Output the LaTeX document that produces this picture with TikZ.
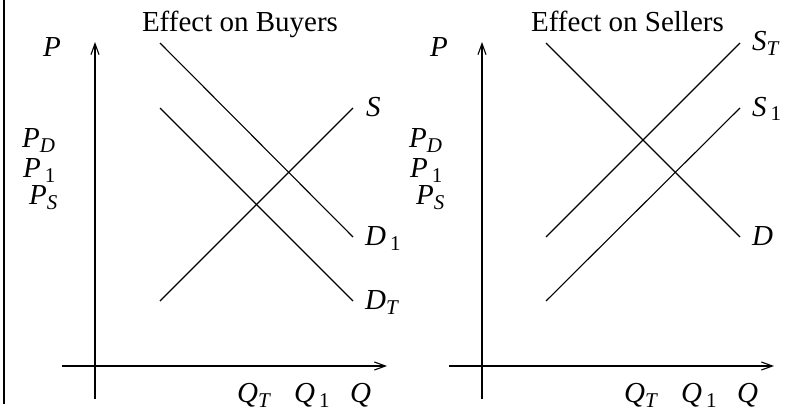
\documentclass[tikz,border=0pt]{standalone}
\usepackage{fontspec}
\setmainfont{Liberation Serif}
\usetikzlibrary{arrows.meta}
\newcommand{\lsub}[2]{\textit{#1}\raisebox{-5pt}{\fontsize{21}{21}\selectfont\textit{#2}}}
\newcommand{\nsub}[2]{\textit{#1}\hspace{4pt}\raisebox{-5pt}{\fontsize{21}{21}\selectfont #2}}
\tikzset{
  ln/.style={line width=1.1pt},
  ax/.style={line width=1.1pt,-{Straight Barb[length=11pt,width=8pt,line width=1.1pt]}},
  lbl/.style={inner sep=0pt,anchor=base west,font=\fontsize{29}{32}\selectfont},
  ttl/.style={inner sep=0pt,anchor=base,font=\fontsize{29}{32}\selectfont}
}
\begin{document}
\begin{tikzpicture}[x=1pt,y=-1pt]
\useasboundingbox (0,0) rectangle (798,412);
% left frame line
\coordinate (ft) at (4,0);
\coordinate (fb) at (4,404);
\draw[ln] (ft) -- (fb);
% ---------- left panel ----------
\coordinate (Lyb) at (95,399);
\coordinate (Lyt) at (95,42);
\coordinate (Lxl) at (62,366);
\coordinate (Lxr) at (387,366);
\draw[ax] (Lyb) -- (Lyt);
\draw[ax] (Lxl) -- (Lxr);
\coordinate (Ld1a) at (160,43);  \coordinate (Ld1b) at (353,237);
\coordinate (Ldta) at (160,108); \coordinate (Ldtb) at (353,301);
\coordinate (Lsa) at (160,301);  \coordinate (Lsb) at (353,108);
\draw[ln] (Ld1a) -- (Ld1b);
\draw[ln] (Ldta) -- (Ldtb);
\draw[ln] (Lsa) -- (Lsb);
\node[ttl] (Ltitle) at (240,32) {Effect on Buyers};
\node[lbl] (LP) at (43,57) {\textit{P}};
\node[lbl] (LPD) at (22,147) {\lsub{P}{D}};
\node[lbl] (LP1) at (23,177) {\nsub{P}{1}};
\node[lbl] (LPS) at (29,204) {\lsub{P}{S}};
\node[lbl] (LS) at (366,116) {\textit{S}};
\node[lbl] (LD1) at (365,245) {\nsub{D}{1}};
\node[lbl] (LDT) at (365,309) {\lsub{D}{T}};
\node[lbl] (LQT) at (237,402) {\lsub{Q}{T}};
\node[lbl] (LQ1) at (294,402) {\nsub{Q}{1}};
\node[lbl] (LQ) at (350,402) {\textit{Q}};
% ---------- right panel ----------
\coordinate (Ryb) at (482,399);
\coordinate (Ryt) at (482,42);
\coordinate (Rxl) at (449,366);
\coordinate (Rxr) at (774,366);
\draw[ax] (Ryb) -- (Ryt);
\draw[ax] (Rxl) -- (Rxr);
\coordinate (Rda) at (546,43);   \coordinate (Rdb) at (740,237);
\coordinate (Rsta) at (546,237); \coordinate (Rstb) at (740,43);
\coordinate (Rs1a) at (546,301); \coordinate (Rs1b) at (740,108);
\draw[ln] (Rda) -- (Rdb);
\draw[ln] (Rsta) -- (Rstb);
\draw[ln] (Rs1a) -- (Rs1b);
\node[ttl] (Rtitle) at (627.5,32) {Effect on Sellers};
\node[lbl] (RP) at (430,57) {\textit{P}};
\node[lbl] (RPD) at (409,147) {\lsub{P}{D}};
\node[lbl] (RP1) at (410,177) {\nsub{P}{1}};
\node[lbl] (RPS) at (416,204) {\lsub{P}{S}};
\node[lbl] (RST) at (752,51) {\lsub{S}{T}};
\node[lbl] (RS1) at (752,116) {\nsub{S}{1}};
\node[lbl] (RD) at (752,245) {\textit{D}};
\node[lbl] (RQT) at (624,402) {\lsub{Q}{T}};
\node[lbl] (RQ1) at (681,402) {\nsub{Q}{1}};
\node[lbl] (RQ) at (737,402) {\textit{Q}};
\end{tikzpicture}
\end{document}
